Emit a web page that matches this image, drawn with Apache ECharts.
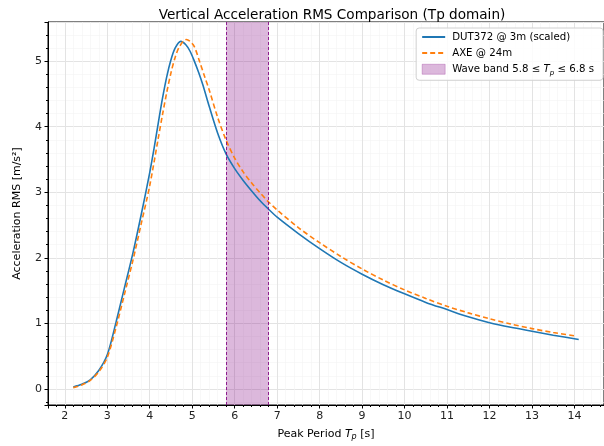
<!DOCTYPE html>
<html><head><meta charset="utf-8">
<script src="https://cdn.jsdelivr.net/npm/echarts@6/dist/echarts.min.js"></script>
<style>html,body{margin:0;padding:0;background:#fff}#c{width:604px;height:446px}</style>
</head><body><div id="c"></div>
<script>
const titleText = 'Vertical Acceleration RMS Comparison (Tp domain)';
const dutName = 'DUT372 @ 3m (scaled)';
const axeName = 'AXE @ 24m';
const bandName = 'Wave band';
const bandRange = [5.8, 6.8];
const dutTp = [2.2,2.4,2.6,2.8,3.0,3.2,3.4,3.6,3.8,4.0,4.1,4.2,4.3,4.4,4.5,4.6,4.73,4.85,4.95,5.05,5.15,5.25,5.4,5.6,5.8,6.0,6.2,6.4,6.6,6.8,7.0,7.5,8.0,8.5,9.0,9.5,10,10.5,11,11.5,12,12.5,13,13.5,14.1];
const dutRms = [0.03,0.07,0.14,0.28,0.52,1.0,1.53,2.06,2.66,3.3,3.66,4.05,4.43,4.76,5.02,5.2,5.3,5.25,5.15,5.0,4.83,4.64,4.31,3.9,3.58,3.36,3.18,3.02,2.87,2.74,2.62,2.37,2.14,1.93,1.75,1.59,1.45,1.32,1.21,1.1,1.01,0.94,0.88,0.82,0.755];
const axeTp = [2.2,2.4,2.6,2.8,3.0,3.2,3.4,3.6,3.8,4.0,4.2,4.3,4.4,4.5,4.6,4.7,4.86,4.95,5.05,5.17,5.3,5.41,5.6,5.8,6.0,6.2,6.4,6.6,6.8,7.0,7.5,8.0,8.5,9.0,9.5,10,10.5,11,11.5,12,12.5,13,13.5,14.0];
const axeRms = [0.02,0.06,0.13,0.26,0.48,0.92,1.43,1.95,2.52,3.1,3.82,4.18,4.52,4.82,5.06,5.22,5.33,5.3,5.22,5.0,4.75,4.54,4.14,3.79,3.52,3.31,3.14,2.99,2.85,2.73,2.46,2.23,2.02,1.83,1.66,1.51,1.38,1.26,1.16,1.07,0.99,0.92,0.86,0.81];
const xRange = [1.605, 14.695];
const yRange = [-0.245, 5.596];

const pair = (xs, ys) => xs.map((x, i) => [x, ys[i]]);
const FONT = 'DejaVu Sans';
const chart = echarts.init(document.getElementById('c'), null, {renderer: 'canvas'});
const intFmt = v => (Math.abs(v - Math.round(v)) < 1e-9 ? String(Math.round(v)) : '');
const richT = (fs) => ({
  n: {fontFamily: FONT, fontSize: fs, color: '#000', lineHeight: 14},
  i: {fontFamily: FONT, fontSize: fs, fontStyle: 'italic', color: '#000', lineHeight: 14},
  s: {fontFamily: FONT, fontSize: fs - 3, fontStyle: 'italic', color: '#000', lineHeight: 6, verticalAlign: 'bottom'}
});
chart.setOption({
  animation: false,
  backgroundColor: '#fff',
  textStyle: {fontFamily: FONT},
  title: {text: titleText, left: 327, textAlign: 'center', top: 3,
    textStyle: {fontFamily: FONT, fontSize: 13.6, fontWeight: 'normal', color: '#000'}},
  grid: {left: 48, top: 22, width: 559, height: 387, show: true, borderColor: '#000', borderWidth: 1, backgroundColor: 'transparent'},
  legend: {
    orient: 'vertical', right: 1, top: 28, padding: [4, 9, 4, 5],
    backgroundColor: 'rgba(255,255,255,0.85)', borderColor: '#d0d0d0', borderWidth: 1, borderRadius: 3,
    itemWidth: 23, itemHeight: 10, itemGap: 6,
    textStyle: {fontFamily: FONT, fontSize: 10.2, color: '#000', padding: [0, 0, 0, 2], rich: richT(10.2)},
    formatter: name => name === bandName
      ? '{n|Wave band ' + bandRange[0] + ' ≤ }{i|T}{s|p}{n| ≤ ' + bandRange[1] + ' s}'
      : '{n|' + name + '}',
    data: [
      {name: dutName, itemStyle: {opacity: 0}},
      {name: axeName, itemStyle: {opacity: 0}},
      {name: bandName, icon: 'rect', itemStyle: {color: 'rgba(128,0,128,0.28)', borderColor: 'rgba(128,0,128,0.5)', borderWidth: 0.5}}]
  },
  xAxis: {
    type: 'value', min: xRange[0], max: xRange[1], splitNumber: 13,
    name: '{n|Peak Period }{i|T}{s|p}{n| [s]}', nameLocation: 'middle', nameGap: 22,
    nameTextStyle: {fontFamily: FONT, fontSize: 11, color: '#000', rich: richT(11)},
    axisLine: {show: true, onZero: false, lineStyle: {color: '#000', width: 1}},
    axisTick: {show: true, length: 3.5, lineStyle: {color: '#000'}},
    minorTick: {show: true, splitNumber: 5, length: 2, lineStyle: {color: '#000'}},
    axisLabel: {fontFamily: FONT, fontSize: 11, color: '#222', margin: 6, formatter: intFmt, showMinLabel: false, showMaxLabel: false},
    splitLine: {show: true, lineStyle: {color: '#e3e3e3', width: 1}},
    minorSplitLine: {show: true, lineStyle: {color: '#f3f3f3', width: 0.6}}
  },
  yAxis: {
    type: 'value', min: yRange[0], max: yRange[1], splitNumber: 5,
    name: 'Acceleration RMS [m/s²]', nameLocation: 'middle', nameGap: 25,
    nameTextStyle: {fontFamily: FONT, fontSize: 11, color: '#000'},
    axisLine: {show: true, onZero: false, lineStyle: {color: '#000', width: 1}},
    axisTick: {show: true, length: 3.5, lineStyle: {color: '#000'}},
    minorTick: {show: true, splitNumber: 5, length: 2, lineStyle: {color: '#000'}},
    axisLabel: {fontFamily: FONT, fontSize: 11, color: '#222', margin: 6, formatter: intFmt, showMinLabel: false, showMaxLabel: false},
    splitLine: {show: true, lineStyle: {color: '#e3e3e3', width: 1}},
    minorSplitLine: {show: true, lineStyle: {color: '#f3f3f3', width: 0.6}}
  },
  series: [
    {name: bandName, type: 'line', data: [], color: 'rgba(128,0,128,0.28)', z: 1,
     markArea: {silent: true, itemStyle: {color: 'rgba(128,0,128,0.28)'}, data: [[{xAxis: bandRange[0]}, {xAxis: bandRange[1]}]]},
     markLine: {silent: true, symbol: 'none', label: {show: false},
       lineStyle: {color: '#800080', type: [3, 2], width: 1, opacity: 0.85},
       data: [{xAxis: bandRange[0]}, {xAxis: bandRange[1]}]}},
    {name: dutName, type: 'line', data: pair(dutTp, dutRms), showSymbol: false, symbol: 'none',
     smooth: 0.3, color: '#1f77b4', lineStyle: {color: '#1f77b4', width: 1.6}, z: 3},
    {name: axeName, type: 'line', data: pair(axeTp, axeRms), showSymbol: false, symbol: 'none',
     smooth: 0.3, color: '#ff7f0e', lineStyle: {color: '#ff7f0e', width: 1.6, type: [5, 3]}, z: 4}
  ]
});
</script></body></html>
